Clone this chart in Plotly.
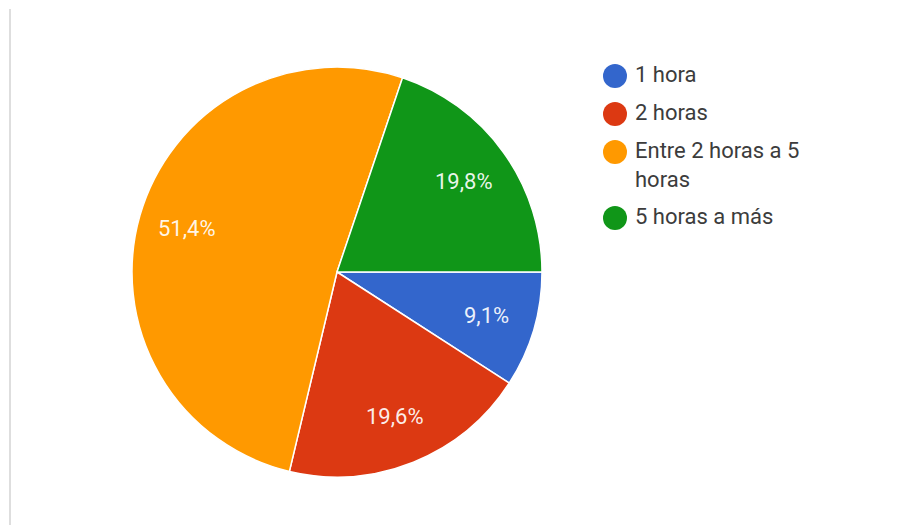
import math
import plotly.graph_objects as go

# Survey answers: hours per day
categories = ["1 hora", "2 horas", "Entre 2 horas a 5 horas", "5 horas a más"]
legend_labels = ["1 hora", "2 horas", "Entre 2 horas a 5<br>horas", "5 horas a más"]
shares = [9.1, 19.6, 51.4, 19.8]
pct_labels = ["9,1%", "19,6%", "51,4%", "19,8%"]
colors = ["#3366CC", "#DC3912", "#FF9900", "#109618"]

W, H = 904, 525
CX, CY, R = 337, 272, 205          # pie centre / radius in pixels (y measured from top)
LABEL_FRAC = 0.76                  # where slice labels sit along the bisector
FONT = "Roboto, Arial, sans-serif"
FONT_SIZE = 22

fig = go.Figure()

fig.add_trace(go.Pie(
    labels=categories,
    values=shares,
    sort=False,
    direction="clockwise",
    rotation=90,
    textinfo="none",
    hoverinfo="label+percent",
    marker=dict(colors=colors, line=dict(color="white", width=1.5)),
    domain=dict(x=[(CX - R) / W, (CX + R) / W],
                y=[(H - CY - R) / H, (H - CY + R) / H]),
    showlegend=False,
))

# Percentage labels placed along each slice's bisector
annotations = []
total = sum(shares)
cum = 0.0
for v, txt in zip(shares, pct_labels):
    theta = (cum + v / 2) / total * 2 * math.pi
    cum += v
    px = CX + LABEL_FRAC * R * math.cos(theta)
    py = CY + LABEL_FRAC * R * math.sin(theta)
    annotations.append(dict(
        x=px / W, y=1 - py / H, xref="paper", yref="paper",
        text=txt, showarrow=False, xanchor="center", yanchor="middle",
        font=dict(family=FONT, size=FONT_SIZE, color="rgba(255,255,255,0.92)"),
    ))

# Legend: circle markers on a pixel-mapped hidden axis, text as annotations
LEG_X, LEG_TOP, LEG_STEP, LINE_H = 615, 76, 38, 28
row_y = []
y = LEG_TOP
for lab in legend_labels:
    row_y.append(y)
    y += LEG_STEP + LINE_H * lab.count("<br>")

fig.add_trace(go.Scatter(
    x=[LEG_X] * len(legend_labels), y=row_y,
    mode="markers",
    marker=dict(size=24, color=colors, line=dict(width=0)),
    hoverinfo="skip", showlegend=False,
))
for lab, yy in zip(legend_labels, row_y):
    annotations.append(dict(
        x=LEG_X + 19, y=yy - 15, xref="x", yref="y",
        text=lab, showarrow=False, xanchor="left", yanchor="top",
        align="left", borderpad=0,
        font=dict(family=FONT, size=FONT_SIZE, color="#3c3c3c"),
    ))

fig.update_layout(
    width=W, height=H,
    margin=dict(l=0, r=0, t=0, b=0),
    paper_bgcolor="white", plot_bgcolor="rgba(0,0,0,0)",
    xaxis=dict(range=[0, W], visible=False, fixedrange=True),
    yaxis=dict(range=[H, 0], visible=False, fixedrange=True),
    annotations=annotations,
    shapes=[dict(type="line", xref="x", yref="y", x0=10, x1=10, y0=9, y1=H,
                 line=dict(color="#dedede", width=2))],
    showlegend=False,
)

fig.write_html("out.html")
